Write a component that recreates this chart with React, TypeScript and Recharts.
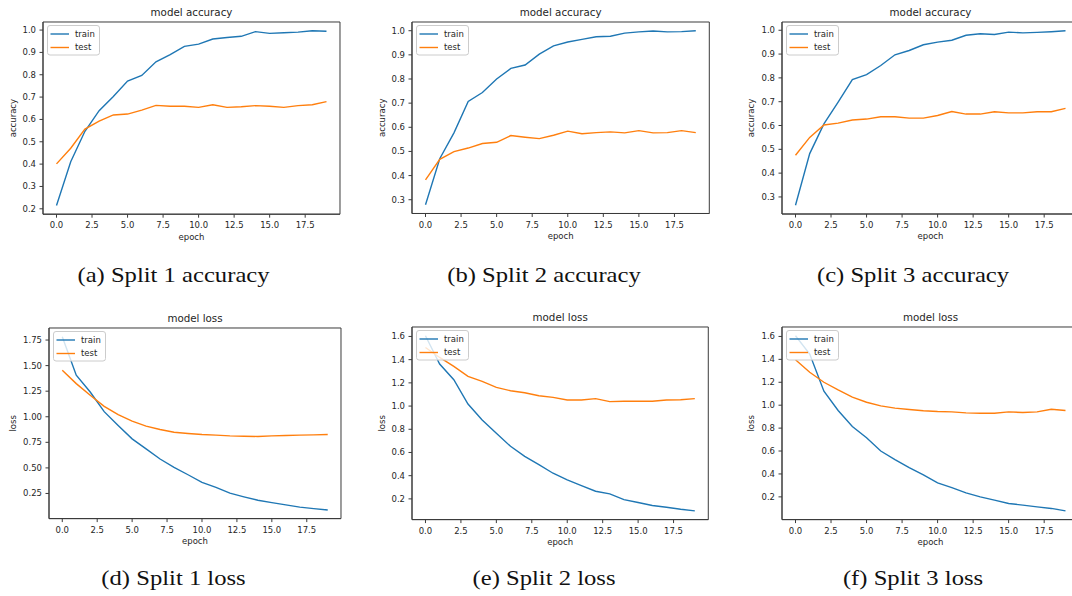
import React from 'react';
import { LineChart, Line, XAxis, YAxis, ReferenceArea } from 'recharts';

// ---------- data ----------
const epochs = [0, 1, 2, 3, 4, 5, 6, 7, 8, 9, 10, 11, 12, 13, 14, 15, 16, 17, 18, 19];
const xTicks = [0, 2.5, 5, 7.5, 10, 12.5, 15, 17.5];

const acc1Train = [0.215, 0.411, 0.547, 0.639, 0.703, 0.772, 0.797, 0.858, 0.89, 0.927, 0.937, 0.96, 0.967, 0.972, 0.993, 0.985, 0.988, 0.991, 0.997, 0.995];
const acc1Test = [0.401, 0.471, 0.557, 0.592, 0.62, 0.624, 0.642, 0.663, 0.659, 0.659, 0.654, 0.666, 0.654, 0.657, 0.662, 0.659, 0.654, 0.662, 0.666, 0.68];

const acc2Train = [0.279, 0.47, 0.577, 0.707, 0.744, 0.8, 0.844, 0.858, 0.903, 0.937, 0.953, 0.964, 0.975, 0.977, 0.99, 0.995, 0.999, 0.995, 0.996, 1.0];
const acc2Test = [0.382, 0.467, 0.499, 0.514, 0.533, 0.538, 0.566, 0.559, 0.553, 0.567, 0.584, 0.573, 0.578, 0.581, 0.577, 0.586, 0.577, 0.578, 0.586, 0.578];

const acc3Train = [0.265, 0.482, 0.607, 0.698, 0.793, 0.814, 0.852, 0.897, 0.915, 0.939, 0.95, 0.958, 0.979, 0.985, 0.982, 0.992, 0.989, 0.991, 0.994, 0.998];
const acc3Test = [0.475, 0.55, 0.602, 0.61, 0.623, 0.627, 0.637, 0.637, 0.631, 0.631, 0.642, 0.659, 0.648, 0.648, 0.658, 0.653, 0.653, 0.658, 0.658, 0.672];

const loss1Train = [1.783, 1.406, 1.242, 1.05, 0.915, 0.784, 0.686, 0.587, 0.505, 0.433, 0.358, 0.309, 0.253, 0.217, 0.184, 0.161, 0.138, 0.116, 0.102, 0.089];
const loss1Test = [1.455, 1.324, 1.21, 1.101, 1.02, 0.957, 0.908, 0.875, 0.849, 0.836, 0.826, 0.82, 0.813, 0.81, 0.807, 0.813, 0.817, 0.82, 0.823, 0.826];

const loss2Train = [1.606, 1.362, 1.227, 1.018, 0.88, 0.765, 0.653, 0.567, 0.496, 0.421, 0.364, 0.315, 0.266, 0.243, 0.194, 0.169, 0.143, 0.128, 0.111, 0.097];
const loss2Test = [1.505, 1.419, 1.342, 1.256, 1.213, 1.161, 1.132, 1.115, 1.089, 1.075, 1.052, 1.052, 1.064, 1.038, 1.041, 1.041, 1.041, 1.052, 1.055, 1.064];

const loss3Train = [1.606, 1.446, 1.122, 0.954, 0.814, 0.716, 0.6, 0.525, 0.455, 0.391, 0.322, 0.281, 0.235, 0.2, 0.171, 0.142, 0.128, 0.113, 0.099, 0.078];
const loss3Test = [1.397, 1.287, 1.2, 1.133, 1.07, 1.026, 0.994, 0.974, 0.962, 0.951, 0.945, 0.942, 0.933, 0.93, 0.93, 0.942, 0.936, 0.942, 0.965, 0.954];

const accTicks1 = [0.2, 0.3, 0.4, 0.5, 0.6, 0.7, 0.8, 0.9, 1.0];
const accTicks23 = [0.3, 0.4, 0.5, 0.6, 0.7, 0.8, 0.9, 1.0];
const lossTicks1 = [0.25, 0.5, 0.75, 1.0, 1.25, 1.5, 1.75];
const lossTicks23 = [0.2, 0.4, 0.6, 0.8, 1.0, 1.2, 1.4, 1.6];

const seriesNames = ['train', 'test'];
const seriesColors = ['#1f77b4', '#ff7f0e'];

const titles = ['model accuracy', 'model loss'];
const yLabels = ['accuracy', 'loss'];
const xLabel = 'epoch';
const captionsTop = ['(a) Split 1 accuracy', '(b) Split 2 accuracy', '(c) Split 3 accuracy'];
const captionsBottom = ['(d) Split 1 loss', '(e) Split 2 loss', '(f) Split 3 loss'];

// ---------- styling ----------
const SANS = '"DejaVu Sans", sans-serif';
const SERIF = '"Liberation Serif", serif';
const INK = '#262626';
const SPINE = '#3a3a3a';

type Rect = { l: number; t: number; r: number; b: number };

type PanelProps = {
  plot: Rect;
  train: number[];
  test: number[];
  yTicks: number[];
  yDigits: number;
  title: string;
  yLabel: string;
  yLabelDx: number;
};

function Panel({ plot, train, test, yTicks, yDigits, title, yLabel, yLabelDx }: PanelProps) {
  const PADL = 60, PADT = 30, PADR = 12, PADB = 36;
  const pw = plot.r - plot.l;
  const ph = plot.b - plot.t;
  const W = pw + PADL + PADR;
  const H = ph + PADT + PADB;

  const data = epochs.map((e, i) => ({ epoch: e, [seriesNames[0]]: train[i], [seriesNames[1]]: test[i] }));
  const all = [...train, ...test];
  const lo = Math.min(...all);
  const hi = Math.max(...all);
  const ym = (hi - lo) * 0.05;
  const yDomain: [number, number] = [lo - ym, hi + ym];
  const xLo = Math.min(...epochs);
  const xHi = Math.max(...epochs);
  const xm = (xHi - xLo) * 0.05;
  const xDomain: [number, number] = [xLo - xm, xHi + xm];

  const cx = PADL + pw / 2;
  const series = [train, test];

  return (
    <div style={{ position: 'absolute', left: plot.l - PADL, top: plot.t - PADT, width: W, height: H }}>
      <LineChart width={W} height={H} data={data} margin={{ top: PADT, right: PADR, bottom: 0, left: 0 }}>
        <XAxis
          dataKey="epoch"
          type="number"
          domain={xDomain}
          ticks={xTicks}
          interval={0}
          allowDataOverflow
          tickFormatter={(v: number) => v.toFixed(1)}
          height={PADB}
          tickSize={3.5}
          tickMargin={4.5}
          stroke={SPINE}
          tick={{ fill: INK, fontSize: 8.5, fontFamily: SANS }}
        />
        <YAxis
          type="number"
          domain={yDomain}
          ticks={yTicks}
          interval={0}
          allowDataOverflow
          tickFormatter={(v: number) => v.toFixed(yDigits)}
          width={PADL}
          tickSize={3.5}
          tickMargin={3.5}
          stroke={SPINE}
          tick={{ fill: INK, fontSize: 8.5, fontFamily: SANS }}
        />
        <ReferenceArea
          x1={xDomain[0]}
          x2={xDomain[1]}
          y1={yDomain[0]}
          y2={yDomain[1]}
          fill="none"
          fillOpacity={0}
          stroke={SPINE}
          strokeWidth={1}
        />
        {seriesNames.map((n, i) => (
          <Line
            key={n}
            type="linear"
            dataKey={n}
            name={n}
            stroke={seriesColors[i]}
            strokeWidth={1.4}
            dot={false}
            activeDot={false}
            isAnimationActive={false}
          />
        ))}
      </LineChart>
      <svg
        width={W}
        height={H}
        style={{ position: 'absolute', left: 0, top: 0, pointerEvents: 'none', overflow: 'visible' }}
      >
        <text x={cx} y={PADT - 6.2} textAnchor="middle" fontFamily={SANS} fontSize={10.3} fill={INK}>
          {title}
        </text>
        <text x={cx} y={PADT + ph + 25.3} textAnchor="middle" fontFamily={SANS} fontSize={8.5} fill={INK}>
          {xLabel}
        </text>
        <text
          x={PADL + yLabelDx + 2.2}
          y={PADT + ph / 2}
          textAnchor="middle"
          fontFamily={SANS}
          fontSize={8.5}
          fill={INK}
          transform={`rotate(-90 ${PADL + yLabelDx + 2.2} ${PADT + ph / 2})`}
        >
          {yLabel}
        </text>
        <g>
          <rect
            x={PADL + 4.5}
            y={PADT + 3.5}
            width={52}
            height={29.5}
            rx={2.5}
            fill="#ffffff"
            fillOpacity={0.8}
            stroke="#cccccc"
            strokeWidth={1}
          />
          {seriesNames.map((n, i) => (
            <g key={n}>
              <line
                x1={PADL + 7.5}
                x2={PADL + 26}
                y1={PADT + 12 + i * 13.5}
                y2={PADT + 12 + i * 13.5}
                stroke={seriesColors[i]}
                strokeWidth={1.4}
              />
              <text x={PADL + 32} y={PADT + 14.5 + i * 13.5} fontFamily={SANS} fontSize={8.5} fill={INK}>
                {n}
              </text>
            </g>
          ))}
        </g>
      </svg>
    </div>
  );
}

function Caption({ text, cx, baseline }: { text: string; cx: number; baseline: number }) {
  return (
    <text
      transform={`translate(${cx} ${baseline}) scale(1.12 1)`}
      x={0}
      y={0}
      textAnchor="middle"
      fontFamily={SERIF}
      fontSize={22}
      fill="#111"
    >
      {text}
    </text>
  );
}

export default function App() {
  const colCenters = [173.5, 544, 913];
  return (
    <div
      style={{
        position: 'relative',
        width: 1072,
        height: 596,
        overflow: 'hidden',
        background: '#fff',
      }}
    >
      <style>{`body{margin:0;overflow:hidden;background:#fff;}`}</style>
      <Panel plot={{ l: 43.3, t: 22.3, r: 340.3, b: 214.5 }} train={acc1Train} test={acc1Test} yTicks={accTicks1} yDigits={1} title={titles[0]} yLabel={yLabels[0]} yLabelDx={-29.5} />
      <Panel plot={{ l: 412.2, t: 22, r: 709.5, b: 213.5 }} train={acc2Train} test={acc2Test} yTicks={accTicks23} yDigits={1} title={titles[0]} yLabel={yLabels[0]} yLabelDx={-29.5} />
      <Panel plot={{ l: 781.5, t: 22, r: 1078.5, b: 214 }} train={acc3Train} test={acc3Test} yTicks={accTicks23} yDigits={1} title={titles[0]} yLabel={yLabels[0]} yLabelDx={-29.8} />
      <Panel plot={{ l: 48.5, t: 327.7, r: 340.5, b: 518.3 }} train={loss1Train} test={loss1Test} yTicks={lossTicks1} yDigits={2} title={titles[1]} yLabel={yLabels[1]} yLabelDx={-35} />
      <Panel plot={{ l: 412.2, t: 326.7, r: 708.5, b: 519.3 }} train={loss2Train} test={loss2Test} yTicks={lossTicks23} yDigits={1} title={titles[1]} yLabel={yLabels[1]} yLabelDx={-29.5} />
      <Panel plot={{ l: 781.5, t: 326.7, r: 1078.5, b: 519.3 }} train={loss3Train} test={loss3Test} yTicks={lossTicks23} yDigits={1} title={titles[1]} yLabel={yLabels[1]} yLabelDx={-29.8} />
      <svg width={1072} height={596} style={{ position: 'absolute', left: 0, top: 0, pointerEvents: 'none' }}>
        {captionsTop.map((c, i) => (
          <Caption key={c} text={c} cx={colCenters[i]} baseline={282} />
        ))}
        {captionsBottom.map((c, i) => (
          <Caption key={c} text={c} cx={colCenters[i]} baseline={585} />
        ))}
      </svg>
    </div>
  );
}
